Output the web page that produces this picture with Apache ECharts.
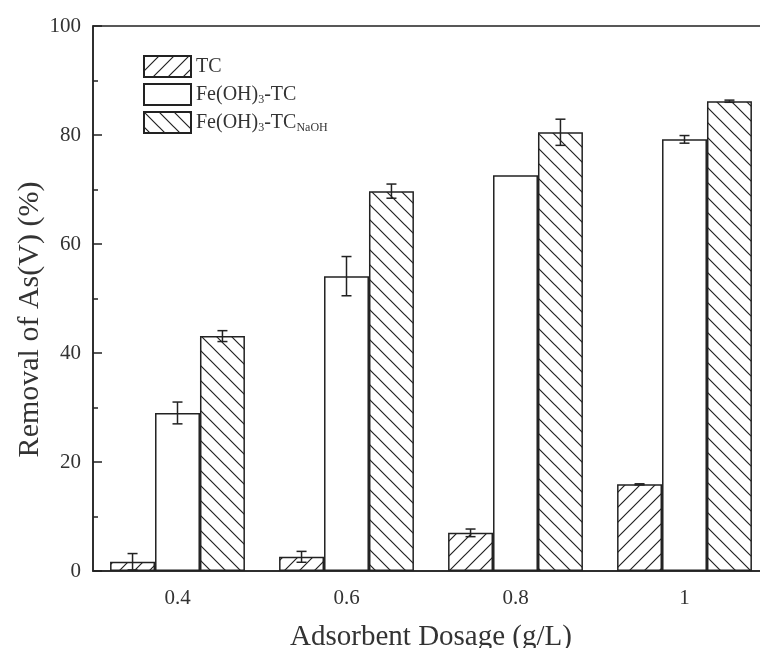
<!DOCTYPE html>
<html>
<head>
<meta charset="utf-8">
<script src="https://cdn.jsdelivr.net/npm/echarts@6/dist/echarts.min.js"></script>
<style>
  html, body { margin: 0; padding: 0; background: #fff; }
  #chart { width: 760px; height: 648px; }
</style>
</head>
<body>
<div id="chart"></div>
<script>
// data
var dosages = ['0.4', '0.6', '0.8', '1'];
var seriesNames = ['TC', 'Fe(OH)3-TC', 'Fe(OH)3-TCNaOH'];
var tcValues = [1.7, 2.6, 7.0, 15.9];
var tcErrors = [1.5, 1.0, 0.7, 0.1];
var feValues = [29.0, 54.1, 72.6, 79.2];
var feErrors = [2.0, 3.6, 0, 0.7];
var naohValues = [43.1, 69.7, 80.5, 86.2];
var naohErrors = [1.0, 1.3, 2.4, 0.2];
var yTicks = [0, 20, 40, 60, 80, 100];

var ink = '#222';
var textColor = '#333';
var serif = '"Liberation Serif", "DejaVu Serif", serif';
var barPct = 0.266;

// hatch tiles
function hatch(dir) {
  var c = document.createElement('canvas');
  c.width = 15; c.height = 15;
  var ctx = c.getContext('2d');
  ctx.strokeStyle = ink;
  ctx.lineWidth = 1.2;
  ctx.beginPath();
  if (dir == '/') {
    ctx.moveTo(-2, 17); ctx.lineTo(17, -2);
    ctx.moveTo(-2, 2); ctx.lineTo(2, -2);
    ctx.moveTo(13, 17); ctx.lineTo(17, 13);
  } else {
    ctx.moveTo(-2, -2); ctx.lineTo(17, 17);
    ctx.moveTo(13, -2); ctx.lineTo(17, 2);
    ctx.moveTo(-2, 13); ctx.lineTo(2, 17);
  }
  ctx.stroke();
  return c;
}

function errData(vals, errs) {
  var out = [];
  for (var i = 0; i < vals.length; i++) {
    out.push([i, vals[i], errs[i]]);
  }
  return out;
}

function errSeries(vals, errs, slot) {
  return {
    type: 'custom',
    z: 10,
    silent: true,
    data: errData(vals, errs),
    encode: { x: 0, y: 1 },
    renderItem: function (params, api) {
      var i = api.value(0), v = api.value(1), e = api.value(2);
      if (!e) return;
      var w = api.size([1, 0])[0];
      var cx = api.coord([i, v])[0] + slot * w * barPct;
      var top = api.coord([i, v + e])[1];
      var bot = api.coord([i, v - e])[1];
      var cap = 5;
      var st = { stroke: ink, lineWidth: 1.5 };
      return {
        type: 'group',
        children: [
          { type: 'line', shape: { x1: cx, y1: top, x2: cx, y2: bot }, style: st },
          { type: 'line', shape: { x1: cx - cap, y1: top, x2: cx + cap, y2: top }, style: st },
          { type: 'line', shape: { x1: cx - cap, y1: bot, x2: cx + cap, y2: bot }, style: st }
        ]
      };
    }
  };
}

var chart = echarts.init(document.getElementById('chart'));

var option = {
  animation: false,
  backgroundColor: '#fff',
  grid: {
    left: 93, top: 26, width: 676, bottom: 77,
    outerBoundsMode: 'none',
    show: true, borderColor: ink, borderWidth: 1.5
  },
  legend: {
    data: seriesNames,
    orient: 'vertical',
    left: 138, top: 50,
    icon: 'rect',
    itemWidth: 47, itemHeight: 21, itemGap: 5,
    formatter: function (name) {
      if (name == 'TC') return '{a|TC}';
      if (name == 'Fe(OH)3-TC') return '{a|Fe(OH)}{s|3}{a|-TC}';
      return '{a|Fe(OH)}{s|3}{a|-TC}{s|NaOH}';
    },
    textStyle: {
      padding: [0, 0, 0, 0],
      rich: {
        a: { fontFamily: serif, fontSize: 20, color: textColor, lineHeight: 22 },
        s: { fontFamily: serif, fontSize: 12, color: textColor, lineHeight: 6, verticalAlign: 'bottom' }
      }
    }
  },
  xAxis: [{
    type: 'category',
    data: dosages,
    position: 'bottom',
    name: 'Adsorbent Dosage (g/L)',
    nameLocation: 'middle',
    nameGap: 52,
    nameTextStyle: { fontFamily: serif, fontSize: 29, color: textColor },
    axisLine: { lineStyle: { color: ink, width: 1.5 } },
    axisTick: { inside: true, alignWithLabel: true, length: 9, lineStyle: { color: ink, width: 1.5 } },
    axisLabel: { fontFamily: serif, fontSize: 21, color: textColor, margin: 17 }
  }, {
    type: 'category',
    data: dosages,
    position: 'bottom',
    axisLine: { show: false },
    axisTick: { inside: true, length: 5, lineStyle: { color: ink, width: 1.5 } },
    axisLabel: { show: false }
  }],
  yAxis: {
    type: 'value',
    min: yTicks[0], max: yTicks[yTicks.length - 1], interval: 20,
    name: 'Removal of As(V) (%)',
    nameLocation: 'middle',
    nameGap: 48,
    nameMoveOverlap: false,
    nameTextStyle: { fontFamily: serif, fontSize: 30, color: textColor, padding: [0, 42, 0, 0] },
    axisLine: { show: true, lineStyle: { color: ink, width: 1.5 } },
    axisTick: { show: true, inside: true, length: 9, lineStyle: { color: ink, width: 1.5 } },
    minorTick: { show: true, splitNumber: 2, length: 5, lineStyle: { color: ink, width: 1.5 } },
    splitLine: { show: false },
    axisLabel: { fontFamily: serif, fontSize: 21, color: textColor, margin: 12 }
  },
  series: [
    {
      name: seriesNames[0], type: 'bar', data: tcValues,
      barWidth: (barPct * 100) + '%', barGap: '0%',
      itemStyle: { color: { image: hatch('/'), repeat: 'repeat' }, borderColor: ink, borderWidth: 1.5 }
    },
    {
      name: seriesNames[1], type: 'bar', data: feValues,
      barWidth: (barPct * 100) + '%', barGap: '0%',
      itemStyle: { color: '#fff', borderColor: ink, borderWidth: 1.5 }
    },
    {
      name: seriesNames[2], type: 'bar', data: naohValues,
      barWidth: (barPct * 100) + '%', barGap: '0%',
      itemStyle: { color: { image: hatch('\\'), repeat: 'repeat' }, borderColor: ink, borderWidth: 1.5 }
    },
    errSeries(tcValues, tcErrors, -1),
    errSeries(feValues, feErrors, 0),
    errSeries(naohValues, naohErrors, 1)
  ]
};

chart.setOption(option);
</script>
</body>
</html>
